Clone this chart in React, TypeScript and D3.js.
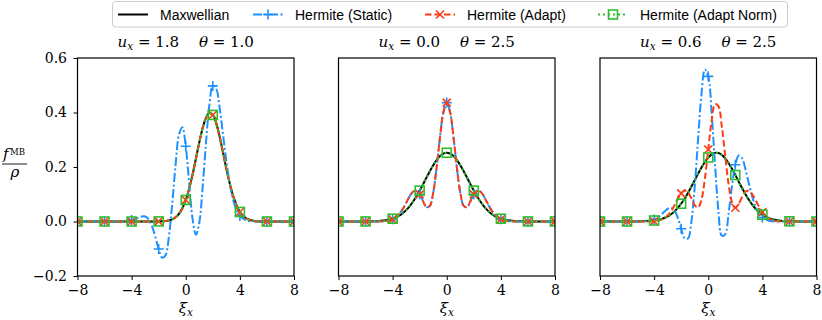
import React, { useEffect, useRef } from "react";
import * as d3 from "d3";

// sample positions along xi_x (shared by every curve)
const xiGrid = [-8, -7, -6, -5.5, -5, -4.5, -4, -3.75, -3.5, -3.25, -3, -2.75, -2.5, -2.25, -2, -1.75, -1.5, -1.25, -1, -0.75, -0.5, -0.25, 0, 0.25, 0.5, 0.75, 1, 1.25, 1.5, 1.75, 2, 2.25, 2.5, 2.75, 3, 3.25, 3.5, 3.75, 4, 4.5, 5, 5.5, 6, 7, 8];
const markerXi = [-8, -6, -4, -2, 0, 2, 4, 6, 8];
const xTicks = [-8, -4, 0, 4, 8];
const yTicks = [-0.2, 0, 0.2, 0.4, 0.6];

// panel 1: u_x = 1.8, theta = 1.0
const maxwell1 = [0, 0, 0, 0, 0, 0, 0, 0, 0, 0, 0, 0, 0.00004, 0.0001, 0.0003, 0.0007, 0.0017, 0.0038, 0.0079, 0.0155, 0.0283, 0.0488, 0.079, 0.12, 0.171, 0.23, 0.29, 0.343, 0.381, 0.398, 0.391, 0.361, 0.312, 0.254, 0.194, 0.14, 0.094, 0.06, 0.035, 0.0104, 0.0024, 0.0004, 0, 0, 0];
const static1 = [0, 0, 0, 0, 0.0002, 0.0012, 0.0052, 0.0092, 0.0142, 0.0186, 0.0186, 0.0088, -0.0157, -0.0553, -0.101, -0.1327, -0.1243, -0.057, 0.0651, 0.2085, 0.3186, 0.3461, 0.2761, 0.142, 0.0112, -0.0486, -0.0045, 0.1268, 0.2918, 0.4293, 0.4976, 0.4874, 0.419, 0.3206, 0.2215, 0.1392, 0.0801, 0.0424, 0.0206, 0.0039, 0.0005, 0.0001, 0, 0, 0];
const adapt1 = maxwell1;
const norm1 = maxwell1;

// panel 2: u_x = 0.0, theta = 2.5
const maxwell2 = [0, 0, 0.0002, 0.0006, 0.0017, 0.0044, 0.0103, 0.0152, 0.0218, 0.0305, 0.0417, 0.0556, 0.0723, 0.0917, 0.1134, 0.1368, 0.161, 0.1846, 0.2066, 0.2255, 0.24, 0.2492, 0.2523, 0.2492, 0.24, 0.2255, 0.2066, 0.1846, 0.161, 0.1368, 0.1134, 0.0917, 0.0723, 0.0556, 0.0417, 0.0305, 0.0218, 0.0152, 0.0103, 0.0044, 0.0017, 0.0006, 0.0002, 0, 0];
const static2 = [0, 0, 0, 0, 0.0002, 0.0016, 0.0078, 0.0154, 0.0278, 0.0458, 0.0684, 0.0917, 0.1091, 0.1127, 0.0996, 0.0743, 0.0529, 0.0576, 0.1059, 0.1973, 0.3088, 0.4007, 0.4363, 0.4007, 0.3088, 0.1973, 0.1059, 0.0576, 0.0529, 0.0743, 0.0996, 0.1127, 0.1091, 0.0917, 0.0684, 0.0458, 0.0278, 0.0154, 0.0078, 0.0016, 0.0002, 0, 0, 0, 0];
const adapt2 = static2;
const norm2 = maxwell2;

// panel 3: u_x = 0.6, theta = 2.5
const maxwell3 = [0, 0, 0, 0.00015, 0.0005, 0.0014, 0.0037, 0.0057, 0.0088, 0.013, 0.0189, 0.0267, 0.0369, 0.0497, 0.0653, 0.0836, 0.1045, 0.1272, 0.1512, 0.1752, 0.1981, 0.2184, 0.2348, 0.2462, 0.2518, 0.2512, 0.2444, 0.2319, 0.2146, 0.1937, 0.1705, 0.1464, 0.1226, 0.1001, 0.0797, 0.0619, 0.0469, 0.0347, 0.025, 0.012, 0.0053, 0.0021, 0.0007, 0.0001, 0];
const static3 = [0, 0, 0, 0, 0.0003, 0.0016, 0.0075, 0.0141, 0.0237, 0.0357, 0.0467, 0.0509, 0.0413, 0.0138, -0.0265, -0.0615, -0.0626, -0.0023, 0.128, 0.3032, 0.468, 0.558, 0.5326, 0.398, 0.2089, 0.0391, -0.0521, -0.0474, 0.0288, 0.1288, 0.2081, 0.2424, 0.2323, 0.1919, 0.1402, 0.0921, 0.0548, 0.0299, 0.0149, 0.0029, 0.0004, 0.0001, 0, 0, 0];
const adapt3 = [0, 0, 0, 0, 0, 0.0002, 0.0011, 0.0026, 0.0058, 0.0118, 0.0221, 0.038, 0.059, 0.0827, 0.1033, 0.1133, 0.1069, 0.085, 0.0596, 0.0513, 0.0809, 0.1567, 0.2642, 0.3689, 0.4304, 0.4232, 0.3503, 0.2416, 0.1381, 0.0713, 0.0504, 0.0641, 0.0902, 0.1096, 0.1125, 0.0998, 0.078, 0.0544, 0.0343, 0.0103, 0.0022, 0.0003, 0, 0, 0];
const norm3 = maxwell3;

const panelTitles = [["1.8", "1.0"], ["0.0", "2.5"], ["0.6", "2.5"]];
const panelData = [
  [maxwell1, static1, adapt1, norm1],
  [maxwell2, static2, adapt2, norm2],
  [maxwell3, static3, adapt3, norm3],
];
const seriesNames = ["Maxwellian", "Hermite (Static)", "Hermite (Adapt)", "Hermite (Adapt Norm)"];

const styles = [
  { color: "#000000", dash: null, marker: null },
  { color: "#1e90ff", dash: "9,2.5,2,2.5", marker: "plus" },
  { color: "#ff3b14", dash: "6.5,3", marker: "cross" },
  { color: "#2fbd2f", dash: "2,3", marker: "square" },
];

const serif = "'DejaVu Serif', 'Liberation Serif', serif";
const sans = "'Liberation Sans', Arial, sans-serif";

function drawMarker(g, type, color, cx, cy) {
  if (type === "plus") {
    g.append("path")
      .attr("d", `M${cx - 5},${cy}H${cx + 5}M${cx},${cy - 5}V${cy + 5}`)
      .attr("stroke", color).attr("stroke-width", 1.6).attr("fill", "none");
  } else if (type === "cross") {
    g.append("path")
      .attr("d", `M${cx - 4},${cy - 4}L${cx + 4},${cy + 4}M${cx - 4},${cy + 4}L${cx + 4},${cy - 4}`)
      .attr("stroke", color).attr("stroke-width", 1.6).attr("fill", "none");
  } else if (type === "square") {
    g.append("rect")
      .attr("x", cx - 4.5).attr("y", cy - 4.5).attr("width", 9).attr("height", 9)
      .attr("stroke", color).attr("stroke-width", 1.6).attr("fill", "none");
  }
}

const App = () => {
  const svgRef = useRef(null);

  useEffect(() => {
    const svg = d3.select(svgRef.current);
    svg.selectAll("*").remove();

    const width = 822;
    const height = 320;
    const panelLefts = [77.5, 338.5, 600];
    const panelW = 216.5;
    const top = 58;
    const bottom = 276;

    svg.attr("width", width).attr("height", height);
    svg.append("rect").attr("width", width).attr("height", height).attr("fill", "white");

    const y = d3.scaleLinear().domain([-0.2, 0.6]).range([bottom, top]);

    panelLefts.forEach((left, p) => {
      const x = d3.scaleLinear().domain([-8, 8]).range([left, left + panelW]);
      const g = svg.append("g");

      const clipId = `clip-${p}`;
      svg.append("clipPath").attr("id", clipId)
        .append("rect").attr("x", left).attr("y", top).attr("width", panelW).attr("height", bottom - top);

      const plot = g.append("g").attr("clip-path", `url(#${clipId})`);
      const line = d3.line()
        .x((d) => x(d[0]))
        .y((d) => y(d[1]))
        .curve(d3.curveCatmullRom.alpha(0.5));

      panelData[p].forEach((vals, s) => {
        const st = styles[s];
        const pts = xiGrid.map((v, i) => [v, vals[i]]);
        plot.append("path")
          .attr("d", line(pts))
          .attr("fill", "none")
          .attr("stroke", st.color)
          .attr("stroke-width", 2)
          .attr("stroke-dasharray", st.dash)
          .attr("stroke-linejoin", "round");
        if (st.marker) {
          markerXi.forEach((m) => {
            const idx = xiGrid.indexOf(m);
            drawMarker(plot, st.marker, st.color, x(m), y(vals[idx]));
          });
        }
      });

      // frame
      g.append("rect")
        .attr("x", left).attr("y", top).attr("width", panelW).attr("height", bottom - top)
        .attr("fill", "none").attr("stroke", "black").attr("stroke-width", 1.2);

      // x axis
      const xAxis = g.append("g").attr("transform", `translate(0,${bottom})`)
        .call(d3.axisBottom(x).tickValues(xTicks).tickSize(4).tickPadding(5).tickFormat(d3.format("d")));
      xAxis.attr("font-family", null).attr("font-size", null);
      xAxis.select(".domain").remove();
      xAxis.selectAll("line").attr("stroke", "black").attr("stroke-width", 1);
      xAxis.selectAll("text").style("font-family", serif).style("font-size", "14px").attr("fill", "black");

      if (p === 0) {
        const yAxis = g.append("g").attr("transform", `translate(${left},0)`)
          .call(d3.axisLeft(y).tickValues(yTicks).tickSize(4).tickPadding(6.5).tickFormat(d3.format(".1f")));
        yAxis.attr("font-family", null).attr("font-size", null);
        yAxis.select(".domain").remove();
        yAxis.selectAll("line").attr("stroke", "black").attr("stroke-width", 1);
        yAxis.selectAll("text").style("font-family", serif).style("font-size", "14px").attr("fill", "black");
      }

      // title
      const cx = left + panelW / 2;
      const t = g.append("text")
        .attr("x", cx).attr("y", 47)
        .attr("text-anchor", "middle")
        .style("font-family", serif).style("font-size", "15px")
        .style("white-space", "pre");
      t.append("tspan").attr("font-style", "italic").text("u");
      t.append("tspan").attr("font-style", "italic").style("font-size", "10.5px").attr("dy", 3).text("x");
      t.append("tspan").attr("dy", -3).text(` = ${panelTitles[p][0]}\u2003 `);
      t.append("tspan").attr("font-style", "italic").text("θ");
      t.append("tspan").text(` = ${panelTitles[p][1]}`);

      // x label
      const xl = g.append("text")
        .attr("x", cx).attr("y", 313)
        .attr("text-anchor", "middle")
        .style("font-family", serif).style("font-size", "15px");
      xl.append("tspan").attr("font-style", "italic").text("ξ");
      xl.append("tspan").attr("font-style", "italic").style("font-size", "10.5px").attr("dy", 3).text("x");
    });

    // y label as fraction
    const yl = svg.append("g").style("font-family", serif);
    yl.append("text").attr("x", 3).attr("y", 159)
      .style("font-size", "15px").attr("font-style", "italic").text("f");
    yl.append("text").attr("x", 10).attr("y", 155)
      .style("font-size", "8.5px").text("MB");
    yl.append("line").attr("x1", 2).attr("x2", 27).attr("y1", 164).attr("y2", 164)
      .attr("stroke", "black").attr("stroke-width", 0.9);
    yl.append("text").attr("x", 15).attr("y", 177).attr("text-anchor", "middle")
      .style("font-size", "15px").attr("font-style", "italic").text("ρ");

    // legend
    const lg = svg.append("g");
    lg.append("rect")
      .attr("x", 112.5).attr("y", 1.5).attr("width", 675).attr("height", 25.5).attr("rx", 3)
      .attr("fill", "white").attr("stroke", "#cccccc").attr("stroke-width", 1);
    const handleStarts = [118, 253, 425, 598];
    seriesNames.forEach((name, s) => {
      const st = styles[s];
      const x0 = handleStarts[s];
      const ly = 14.5;
      lg.append("line")
        .attr("x1", x0).attr("x2", x0 + 30).attr("y1", ly).attr("y2", ly)
        .attr("stroke", st.color).attr("stroke-width", 2)
        .attr("stroke-dasharray", st.dash);
      if (st.marker) drawMarker(lg, st.marker, st.color, x0 + 15, ly);
      lg.append("text")
        .attr("x", x0 + 42).attr("y", ly + 5)
        .style("font-family", sans).style("font-size", "14px").attr("fill", "black")
        .text(name);
    });
  }, []);

  return (
    <div style={{ position: "absolute", left: 0, top: 0 }}>
      <svg ref={svgRef} style={{ display: "block" }}></svg>
    </div>
  );
};

export default App;
